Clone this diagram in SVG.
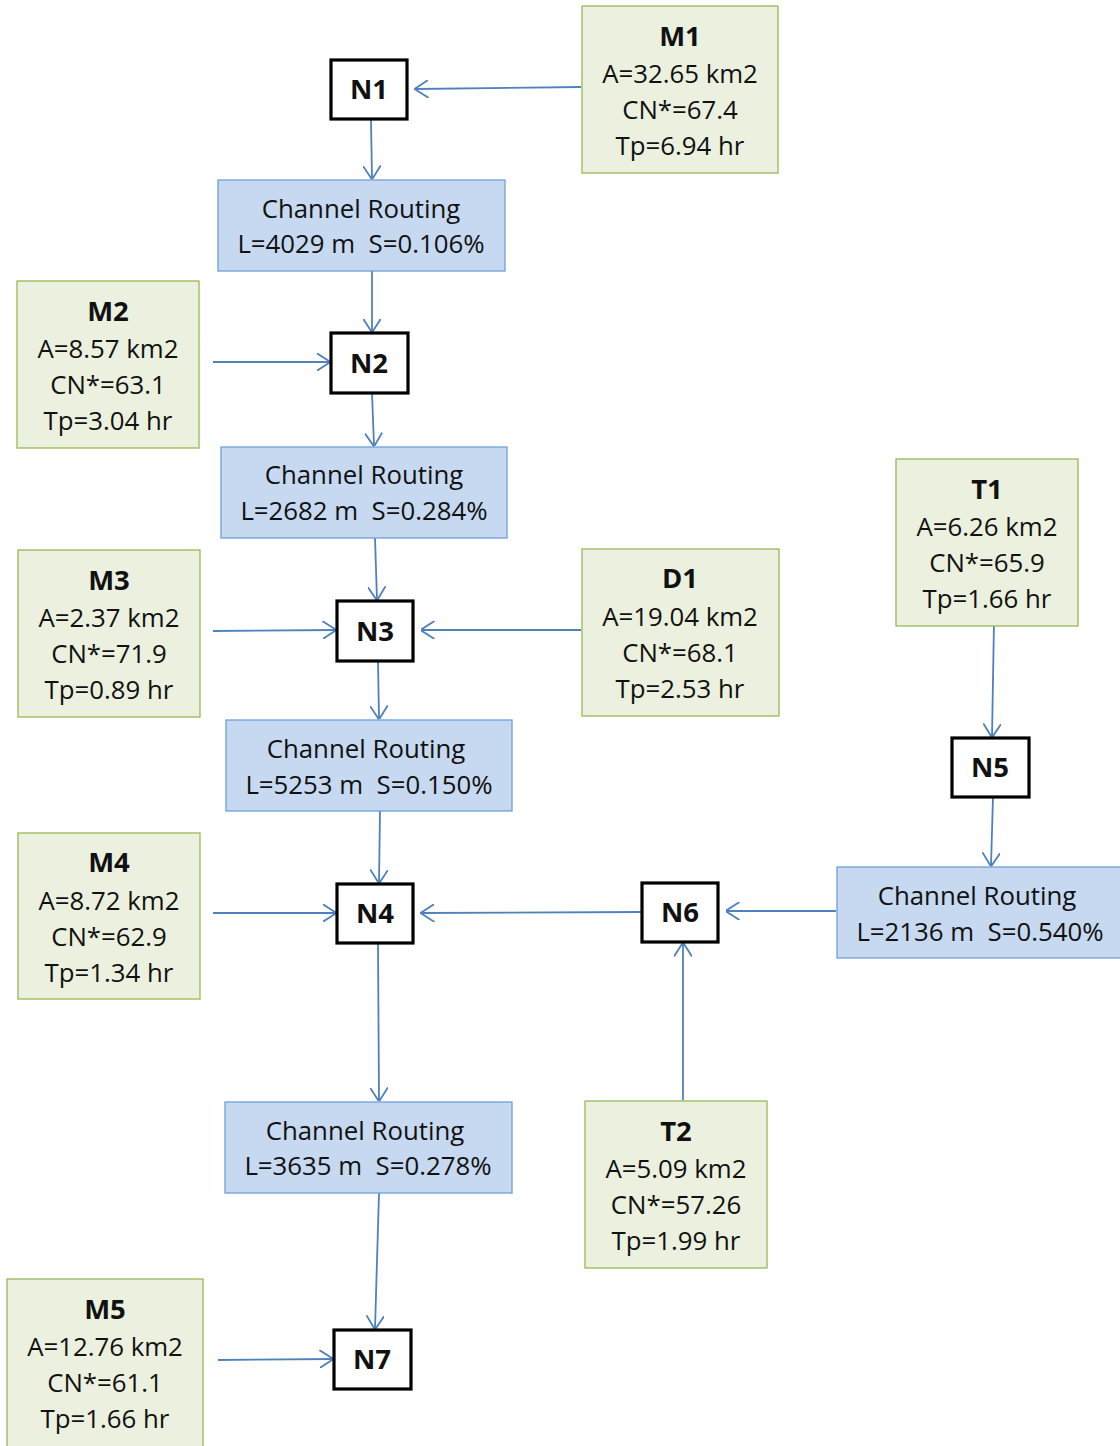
<svg xmlns="http://www.w3.org/2000/svg" width="1120" height="1446" viewBox="0 0 1120 1446">
<style>
.sub{fill:#ebf1de;stroke:#98b954;stroke-width:1.3}
.cr{fill:#c6d9f1;stroke:#6f9fd8;stroke-width:1.3}
.nd{fill:#fff;stroke:#000;stroke-width:3.2}
text{font-family:"Open Sans","Liberation Sans",sans-serif;font-size:25.8px;fill:#111;text-anchor:middle}
.t{font-weight:bold;font-size:27.5px}
.c{fill:none;stroke:#4f81bd;stroke-width:1.8}
</style>
<defs>
<marker id="a" viewBox="0 0 14 18" markerWidth="14" markerHeight="18" refX="13.5" refY="9" orient="auto" markerUnits="userSpaceOnUse">
<path d="M0,0 L14,9 L0,18" fill="none" stroke="#4f81bd" stroke-width="1.8"/>
</marker>
</defs>
<g id="connectors">
<path class="c" marker-end="url(#a)" d="M581,87 L415,89"/>
<path class="c" marker-end="url(#a)" d="M371,120 L372,179"/>
<path class="c" marker-end="url(#a)" d="M372,271 L372,332"/>
<path class="c" marker-end="url(#a)" d="M213,362 L330,362"/>
<path class="c" marker-end="url(#a)" d="M372,393 L374,446"/>
<path class="c" marker-end="url(#a)" d="M375,538 L377,600"/>
<path class="c" marker-end="url(#a)" d="M213,631 L336,630"/>
<path class="c" marker-end="url(#a)" d="M581,630 L421,630"/>
<path class="c" marker-end="url(#a)" d="M378,661 L379,719"/>
<path class="c" marker-end="url(#a)" d="M994,622 L992,737"/>
<path class="c" marker-end="url(#a)" d="M993,797 L991,866"/>
<path class="c" marker-end="url(#a)" d="M836,911 L726,911"/>
<path class="c" marker-end="url(#a)" d="M641,912 L421,913"/>
<path class="c" marker-end="url(#a)" d="M380,811 L379,883"/>
<path class="c" marker-end="url(#a)" d="M213,913 L336,913"/>
<path class="c" marker-end="url(#a)" d="M683,1100 L683,943"/>
<path class="c" marker-end="url(#a)" d="M378,943 L379,1101"/>
<path class="c" marker-end="url(#a)" d="M379,1193 L375,1329"/>
<path class="c" marker-end="url(#a)" d="M218,1360 L333,1359"/>
</g>
<g id="M1"><rect class="sub" x="582" y="6" width="196" height="167"/><text class="t" x="680" y="46">M1</text><text x="680" y="83">A=32.65 km2</text><text x="680" y="119">CN*=67.4</text><text x="680" y="155">Tp=6.94 hr</text></g>
<g id="N1"><rect class="nd" x="331" y="60" width="76" height="59"/><text class="t" x="369" y="99">N1</text></g>
<g id="CR1"><rect class="cr" x="218" y="180" width="287" height="91"/><text x="361" y="218">Channel Routing</text><text x="361" y="253" xml:space="preserve">L=4029 m  S=0.106%</text></g>
<g id="M2"><rect class="sub" x="17" y="281" width="182" height="167"/><text class="t" x="108" y="321">M2</text><text x="108" y="358">A=8.57 km2</text><text x="108" y="394">CN*=63.1</text><text x="108" y="430">Tp=3.04 hr</text></g>
<g id="N2"><rect class="nd" x="331" y="333" width="77" height="60"/><text class="t" x="369" y="373">N2</text></g>
<g id="CR2"><rect class="cr" x="221" y="447" width="286" height="91"/><text x="364" y="484">Channel Routing</text><text x="364" y="520" xml:space="preserve">L=2682 m  S=0.284%</text></g>
<g id="M3"><rect class="sub" x="18" y="550" width="182" height="167"/><text class="t" x="109" y="590">M3</text><text x="109" y="627">A=2.37 km2</text><text x="109" y="663">CN*=71.9</text><text x="109" y="699">Tp=0.89 hr</text></g>
<g id="N3"><rect class="nd" x="337" y="601" width="76" height="60"/><text class="t" x="375" y="641">N3</text></g>
<g id="D1"><rect class="sub" x="582" y="549" width="197" height="167"/><text class="t" x="680" y="588">D1</text><text x="680" y="626">A=19.04 km2</text><text x="680" y="662">CN*=68.1</text><text x="680" y="698">Tp=2.53 hr</text></g>
<g id="T1"><rect class="sub" x="896" y="459" width="182" height="167"/><text class="t" x="987" y="499">T1</text><text x="987" y="536">A=6.26 km2</text><text x="987" y="572">CN*=65.9</text><text x="987" y="608">Tp=1.66 hr</text></g>
<g id="N5"><rect class="nd" x="952" y="738" width="77" height="59"/><text class="t" x="990" y="777">N5</text></g>
<g id="CR3"><rect class="cr" x="226" y="720" width="286" height="91"/><text x="366" y="758">Channel Routing</text><text x="369" y="794" xml:space="preserve">L=5253 m  S=0.150%</text></g>
<g id="CR5"><rect class="cr" x="837" y="867" width="290" height="91"/><text x="977" y="905">Channel Routing</text><text x="980" y="941" xml:space="preserve">L=2136 m  S=0.540%</text></g>
<g id="M4"><rect class="sub" x="18" y="833" width="182" height="166"/><text class="t" x="109" y="872">M4</text><text x="109" y="910">A=8.72 km2</text><text x="109" y="946">CN*=62.9</text><text x="109" y="982">Tp=1.34 hr</text></g>
<g id="N4"><rect class="nd" x="337" y="884" width="76" height="59"/><text class="t" x="375" y="923">N4</text></g>
<g id="N6"><rect class="nd" x="642" y="883" width="76" height="59"/><text class="t" x="680" y="922">N6</text></g>
<g id="CR4"><rect class="cr" x="225" y="1102" width="287" height="91"/><text x="365" y="1140">Channel Routing</text><text x="368" y="1175" xml:space="preserve">L=3635 m  S=0.278%</text></g>
<g id="T2"><rect class="sub" x="585" y="1101" width="182" height="167"/><text class="t" x="676" y="1141">T2</text><text x="676" y="1178">A=5.09 km2</text><text x="676" y="1214">CN*=57.26</text><text x="676" y="1250">Tp=1.99 hr</text></g>
<g id="M5"><rect class="sub" x="7" y="1279" width="196" height="170"/><text class="t" x="105" y="1319">M5</text><text x="105" y="1356">A=12.76 km2</text><text x="105" y="1392">CN*=61.1</text><text x="105" y="1428">Tp=1.66 hr</text></g>
<g id="N7"><rect class="nd" x="334" y="1330" width="77" height="59"/><text class="t" x="372" y="1369">N7</text></g>
</svg>
